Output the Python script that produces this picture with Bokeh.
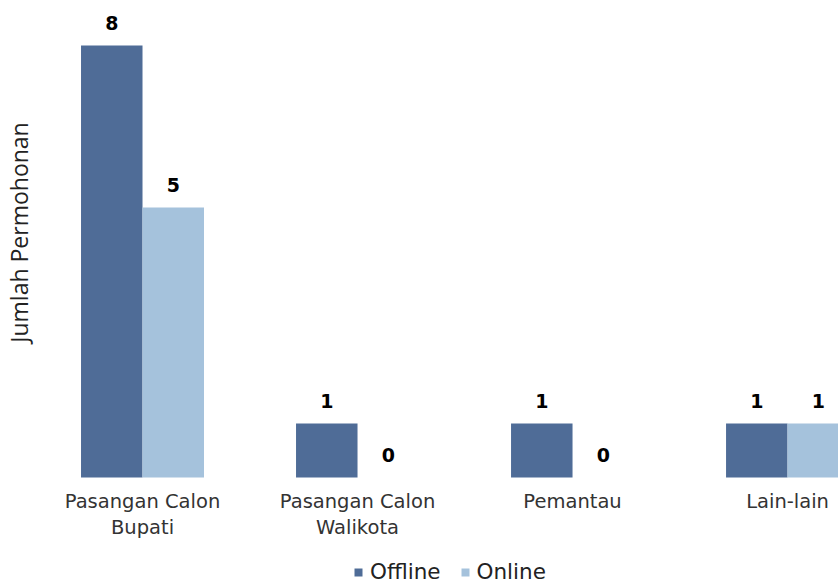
from bokeh.plotting import figure
from bokeh.models import ColumnDataSource, Range1d, Legend, LegendItem, Label
from bokeh.embed import file_html
from bokeh.resources import INLINE
from bokeh.core.properties import value
import math

categories = ["Pasangan Calon\nBupati", "Pasangan Calon\nWalikota", "Pemantau", "Lain-lain"]
offline = [8, 1, 1, 1]
online = [5, 0, 0, 1]
series_names = ["Offline", "Online"]
y_title = "Jumlah Permohonan"
colors = ["#4F6C97", "#A5C2DC"]

pos = list(range(len(categories)))
bw = 0.286
off_x = [i - bw / 2 for i in pos]
on_x = [i + bw / 2 for i in pos]

src_off = ColumnDataSource(dict(x=off_x, top=offline, lbl=[str(v) for v in offline]))
src_on = ColumnDataSource(dict(x=on_x, top=online, lbl=[str(v) for v in online]))
src_cat = ColumnDataSource(dict(x=pos, y=[0] * len(pos), name=categories))

p = figure(frame_width=838, frame_height=583, output_backend="svg", toolbar_location=None,
           x_range=Range1d(-0.6605, 3.237), y_range=Range1d(-1.963, 8.833),
           min_border_left=0, min_border_right=0, min_border_top=0, min_border_bottom=0)
p.outline_line_color = None
p.xgrid.grid_line_color = None
p.ygrid.grid_line_color = None
p.background_fill_color = "white"
p.border_fill_color = "white"
p.xaxis.visible = False
p.yaxis.visible = False

r1 = p.vbar(x="x", top="top", width=bw, bottom=0, source=src_off, fill_color=colors[0], line_color=None)
r2 = p.vbar(x="x", top="top", width=bw, bottom=0, source=src_on, fill_color=colors[1], line_color=None)

for src in (src_off, src_on):
    p.text(x="x", y="top", text="lbl", source=src, y_offset=-22, text_align="center",
           text_baseline="alphabetic", text_font=value("DejaVu Sans"), text_font_style="bold",
           text_font_size="19px", text_color="#000000")

# category labels under the bars
p.text(x="x", y="y", text="name", source=src_cat, y_offset=13, text_align="center",
       text_baseline="top", text_font=value("DejaVu Sans"), text_font_size="19.5px",
       text_line_height=1.1, text_color="#333333")

ylab = Label(x=18, y=351, x_units="screen", y_units="screen", text=y_title, angle=math.pi / 2,
             text_align="center", text_baseline="middle", text_font="Open Sans",
             text_font_size="23px", text_color="#222222")
p.add_layout(ylab)

legend = Legend(items=[LegendItem(label=series_names[0], renderers=[r1]),
                       LegendItem(label=series_names[1], renderers=[r2])],
                orientation="horizontal", location=(353, -1),
                glyph_width=10, glyph_height=10, label_text_font="DejaVu Sans",
                label_text_font_size="21.5px", label_text_color="#222222",
                border_line_color=None, background_fill_alpha=0, spacing=19, padding=0, margin=0,
                label_standoff=7)
p.add_layout(legend, "center")

open("out.html", "w").write(file_html(p, INLINE))
